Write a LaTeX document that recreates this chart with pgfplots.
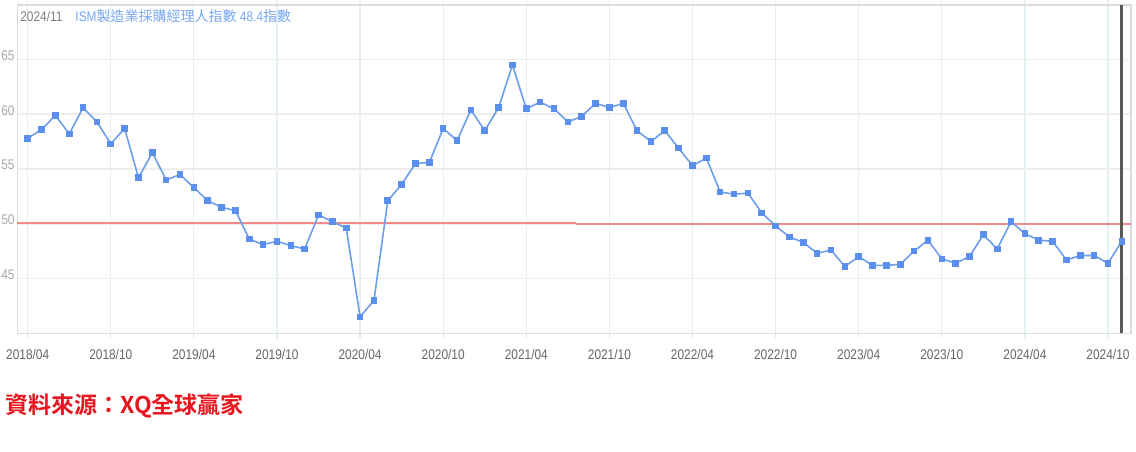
\documentclass[border=0pt]{standalone}
\usepackage{pgfplots}
\pgfplotsset{compat=1.18}
\usepackage{fontspec}
\setmainfont{Liberation Sans}
\newfontfamily\narrowfont[FakeStretch=0.85]{Liberation Sans}
\newfontfamily\cjk{Noto Sans CJK TC}
\newfontfamily\cjkb{Noto Sans CJK TC Bold}
\definecolor{linecol}{HTML}{6D9EEB}
\definecolor{markcol}{HTML}{5B8FEE}
\definecolor{refred}{HTML}{F28A8A}
\definecolor{framecol}{HTML}{DDDDDD}
\definecolor{hgrid}{HTML}{EEEEEE}
\definecolor{vgrid}{HTML}{E4EFF6}
\definecolor{titleblue}{HTML}{78A6F2}
\definecolor{srcred}{HTML}{E8141E}
\pgfplotstableread{
x y
0 57.8
1 58.6
2 59.9
3 58.2
4 60.6
5 59.3
6 57.3
7 58.7
8 54.2
9 56.5
10 54.0
11 54.5
12 53.3
13 52.1
14 51.5
15 51.2
16 48.6
17 48.1
18 48.4
19 48.0
20 47.7
21 50.8
22 50.2
23 49.6
24 41.5
25 43.0
26 52.1
27 53.6
28 55.5
29 55.6
30 58.7
31 57.6
32 60.4
33 58.5
34 60.6
35 64.5
36 60.5
37 61.1
38 60.5
39 59.3
40 59.8
41 61.0
42 60.6
43 61.0
44 58.5
45 57.5
46 58.5
47 56.9
48 55.3
49 56.0
50 52.9
51 52.7
52 52.8
53 51.0
54 49.8
55 48.8
56 48.3
57 47.3
58 47.6
59 46.1
60 47.0
61 46.2
62 46.2
63 46.3
64 47.5
65 48.5
66 46.8
67 46.4
68 47.0
69 49.0
70 47.7
71 50.2
72 49.1
73 48.5
74 48.4
75 46.7
76 47.1
77 47.1
78 46.4
79 48.4
}\ismdata
\begin{document}
\begin{tikzpicture}
\useasboundingbox (0,0) rectangle (568pt,225.5pt);
\begin{axis}[
  at={(8.65pt,58.85pt)}, anchor=south west,
  width=556.7pt, height=164.3pt, scale only axis,
  xmin=-0.75, xmax=79.64, ymin=40, ymax=70,
  xtick={0,6,...,78},
  xticklabels={2018/04,2018/10,2019/04,2019/10,2020/04,2020/10,2021/04,2021/10,2022/04,2022/10,2023/04,2023/10,2024/04,2024/10},
  ytick={45,50,55,60,65},
  /pgf/number format/assume math mode=true,
  grid=major,
  x grid style={vgrid, line width=0.6pt},
  y grid style={hgrid, line width=0.8pt},
  axis line style={framecol, line width=0.8pt},
  tick align=outside,
  xtick style={vgrid, line width=0.6pt},
  ytick style={draw=none},
  major tick length=3pt,
  xticklabel style={anchor=center, font=\narrowfont\fontsize{7pt}{8pt}\selectfont, text=black!60},
  xticklabel shift=7.5pt,
  yticklabel style={anchor=east, inner sep=0pt, yshift=2pt, font=\narrowfont\fontsize{7pt}{8pt}\selectfont, text=black!35},
  yticklabel shift=-1.85pt,
  clip=false,
]
\addplot[refred, line width=1pt, forget plot] coordinates {(-0.75,50.06) (39.6,50.06)};
\addplot[refred, line width=1pt, forget plot] coordinates {(39.6,49.97) (79.64,49.97)};
\addplot[linecol, line width=0.8pt, mark=square*, mark size=1.25pt, mark options={fill=markcol, draw=markcol}] table[x=x,y=y] {\ismdata};
\addplot[black!65, line width=1.5pt, forget plot] coordinates {(79,40) (79,70)};
\node[anchor=base west, inner sep=0pt] at (rel axis cs:0.0024,0.950)
  {\fontsize{7pt}{8pt}\selectfont{\color{black!50}\narrowfont 2024/11}\hspace{6.5pt}{\color{titleblue}\narrowfont ISM\cjk 製造業採購經理人指數\narrowfont\ 48.4\cjk 指數}};
\end{axis}
\node[anchor=west, inner sep=0pt, text=srcred] at (2.5pt,22.75pt) {\cjkb\fontsize{11.5pt}{13pt}\selectfont 資料來源：XQ全球贏家};
\end{tikzpicture}
\end{document}
